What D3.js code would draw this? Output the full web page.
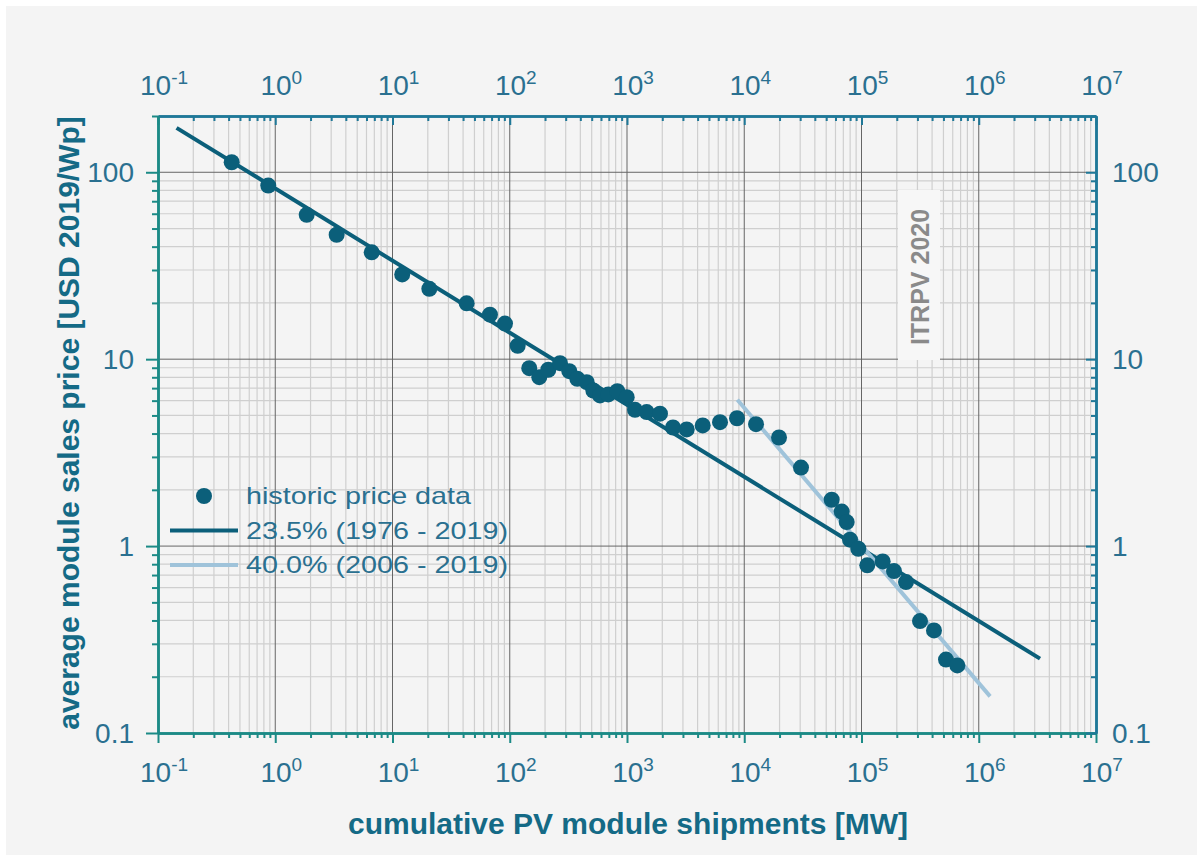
<!DOCTYPE html>
<html><head><meta charset="utf-8">
<script src="https://cdn.jsdelivr.net/npm/d3@7"></script>
<style>body{margin:0;background:#fff;} text{font-family:"Liberation Sans",Arial,sans-serif;}</style>
</head><body><svg id="c" width="1203" height="861"></svg>
<script>
// cumulative shipments [MW]
const shipments = [0.425,0.872,1.854,3.34,6.65,12.1,20.6,42.9,67.8,91.1,116.9,146.7,178.6,213.2,268.3,322.1,376.9,453.2,516.1,588.5,692.6,826.6,994,1170,1472,1911,2468,3230,4421,6212,8673,12600,19790,30480,55700,67800,74750,79800,93900,112000,151600,189300,239600,315400,415200,525700,656600];
// average module sales price [USD 2019/Wp]
const prices = [113.1,84.9,59.2,46.3,37.3,28.4,23.8,19.9,17.3,15.5,11.8,8.95,8.01,8.78,9.52,8.63,7.86,7.53,6.80,6.40,6.48,6.74,6.26,5.36,5.21,5.11,4.31,4.21,4.42,4.60,4.83,4.49,3.81,2.63,1.77,1.53,1.344,1.082,0.968,0.789,0.828,0.735,0.642,0.397,0.354,0.247,0.230];
// fitted learning curves (endpoints)
const trend1976 = [[0.144,172.8],[3.33e6,0.25]];
const trend2006 = [[8730,6.07],[1.25e6,0.157]];
const xTickValues = [1e-1,1e0,1e1,1e2,1e3,1e4,1e5,1e6,1e7];
const xTickExp = ["-1","0","1","2","3","4","5","6","7"];
const yTickValues = [0.1,1,10,100];
const yTickLabels = ["0.1","1","10","100"];
const legendLabels = ["historic price data","23.5% (1976 - 2019)","40.0% (2006 - 2019)"];

const svg = d3.select("#c");
svg.append("rect").attr("x",6).attr("y",6).attr("width",1191).attr("height",849).attr("fill","#f4f4f4");

const L=158,R=1096,T=116,B=733;
const x = d3.scaleLog().domain([0.1,1e7]).range([L,R]);
const y = d3.scaleLog().domain([0.1,200]).range([B,T]);

const dark="#0b5f7a", light="#9fc3da", axL="#1b8a86", axT="#1f7898", lab="#2a7090";

// minor ticks
const xMinor=[], yMinor=[];
for(let e=-1;e<7;e++) for(let k=2;k<=9;k++) xMinor.push(k*Math.pow(10,e));
for(let e=-1;e<3;e++) for(let k=2;k<=9;k++){const v=k*Math.pow(10,e); if(v<=200) yMinor.push(v);}

const g = svg.append("g");
// grid
g.selectAll(".gxm").data(xMinor).join("line").attr("x1",d=>x(d)).attr("x2",d=>x(d)).attr("y1",T).attr("y2",B).attr("stroke","#cfcfcf").attr("stroke-width",1.2);
g.selectAll(".gym").data(yMinor).join("line").attr("y1",d=>y(d)).attr("y2",d=>y(d)).attr("x1",L).attr("x2",R).attr("stroke","#cfcfcf").attr("stroke-width",1.2);
g.selectAll(".gxM").data(xTickValues.slice(1,-1)).join("line").attr("x1",d=>x(d)).attr("x2",d=>x(d)).attr("y1",T).attr("y2",B).attr("stroke","#666").attr("stroke-width",1);
g.selectAll(".gyM").data(yTickValues.slice(1)).join("line").attr("y1",d=>y(d)).attr("y2",d=>y(d)).attr("x1",L).attr("x2",R).attr("stroke","#666").attr("stroke-width",1);

// axes
function styleAxis(sel,col){sel.select(".domain").attr("stroke",col).attr("stroke-width",2.5);sel.selectAll(".tick line").attr("stroke",col).attr("stroke-width",2);sel.selectAll(".tick text").remove();}
const bx = svg.append("g").attr("transform",`translate(0,${B})`);
bx.call(d3.axisBottom(x).tickValues(xMinor).tickSize(5).tickSizeOuter(0)); styleAxis(bx,axL);
const bxM = svg.append("g").attr("transform",`translate(0,${B})`);
bxM.call(d3.axisBottom(x).tickValues(xTickValues).tickSize(10).tickSizeOuter(0)); styleAxis(bxM,axL);
const tx = svg.append("g").attr("transform",`translate(0,${T})`);
tx.call(d3.axisBottom(x).tickValues(xMinor).tickSize(5).tickSizeOuter(0)); styleAxis(tx,axT);
const txM = svg.append("g").attr("transform",`translate(0,${T})`);
txM.call(d3.axisBottom(x).tickValues(xTickValues).tickSize(9).tickSizeOuter(0)); styleAxis(txM,axT);
const ly = svg.append("g").attr("transform",`translate(${L},0)`);
ly.call(d3.axisLeft(y).tickValues(yMinor).tickSize(6).tickSizeOuter(0)); styleAxis(ly,axL);
const lyM = svg.append("g").attr("transform",`translate(${L},0)`);
lyM.call(d3.axisLeft(y).tickValues(yTickValues).tickSize(12).tickSizeOuter(0)); styleAxis(lyM,axL);
const ry = svg.append("g").attr("transform",`translate(${R},0)`);
ry.call(d3.axisLeft(y).tickValues(yMinor).tickSize(5).tickSizeOuter(0)); styleAxis(ry,axT);
const ryM = svg.append("g").attr("transform",`translate(${R},0)`);
ryM.call(d3.axisLeft(y).tickValues(yTickValues).tickSize(10).tickSizeOuter(0)); styleAxis(ryM,axT);

// x tick labels (top & bottom)
[[782,"b"],[95,"t"]].forEach(([yy,k])=>{
  const t = svg.selectAll(".xl"+k).data(xTickValues).join("text").attr("x",d=>x(d)+6).attr("y",yy)
    .attr("text-anchor","middle").attr("fill",lab).attr("font-size",28);
  t.append("tspan").text("10");
  t.append("tspan").attr("dy",-11).attr("font-size",19).text((d,i)=>xTickExp[i]);
});
svg.selectAll(".yl").data(yTickValues).join("text").attr("x",L-24).attr("y",d=>y(d)+10).attr("text-anchor","end").attr("fill",lab).attr("font-size",28).text((d,i)=>yTickLabels[i]);
svg.selectAll(".yr").data(yTickValues).join("text").attr("x",R+16).attr("y",d=>y(d)+10).attr("text-anchor","start").attr("fill",lab).attr("font-size",28).text((d,i)=>yTickLabels[i]);

// titles
svg.append("text").attr("x",628).attr("y",834).attr("text-anchor","middle").attr("font-weight","bold").attr("font-size",30).attr("fill","#146a86").text("cumulative PV module shipments [MW]");
svg.append("text").attr("transform","translate(79,423) rotate(-90)").attr("text-anchor","middle").attr("font-weight","bold").attr("font-size",30).attr("fill","#146a86").text("average module sales price [USD 2019/Wp]");

// ITRPV label
svg.append("rect").attr("x",898).attr("y",190).attr("width",42).attr("height",170).attr("fill","#f7f7f7");
svg.append("text").attr("transform","translate(929,277) rotate(-90)").attr("text-anchor","middle").attr("font-weight","bold").attr("font-size",25).attr("fill","#8a8a8a").text("ITRPV 2020");

// lines
const line = d3.line().x(d=>x(d[0])).y(d=>y(d[1]));
svg.append("path").attr("d",line(trend1976)).attr("stroke",dark).attr("stroke-width",4).attr("fill","none");
svg.append("path").attr("d",line(trend2006)).attr("stroke",light).attr("stroke-width",4).attr("fill","none");

// points
svg.selectAll(".pt").data(shipments).join("circle").attr("cx",d=>x(d)).attr("cy",(d,i)=>y(prices[i])).attr("r",8).attr("fill",dark);

// legend
const lg = svg.append("g");
lg.append("circle").attr("cx",204).attr("cy",496).attr("r",8).attr("fill",dark);
lg.append("line").attr("x1",170).attr("x2",238).attr("y1",530.5).attr("y2",530.5).attr("stroke",dark).attr("stroke-width",4);
lg.append("line").attr("x1",170).attr("x2",238).attr("y1",565).attr("y2",565).attr("stroke",light).attr("stroke-width",4);
const lgW=[225,262,262];
lg.selectAll("text").data(legendLabels).join("text").attr("x",246).attr("y",(d,i)=>504+i*34.5).attr("font-size",24)
  .attr("textLength",(d,i)=>lgW[i]).attr("lengthAdjust","spacingAndGlyphs").attr("fill",lab).text(d=>d);
</script></body></html>
